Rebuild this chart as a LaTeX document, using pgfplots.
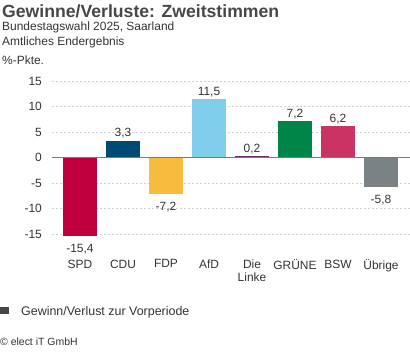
\documentclass[border=0pt]{standalone}
\usepackage{pgfplots}
\pgfplotsset{compat=1.18}
\usepackage{fontspec}
\setmainfont{Liberation Sans}
\definecolor{txt}{HTML}{333333}
\definecolor{ttl}{HTML}{474747}
\definecolor{cSPD}{HTML}{C0003C}
\definecolor{cCDU}{HTML}{004B76}
\definecolor{cFDP}{HTML}{F7BB3D}
\definecolor{cAfD}{HTML}{80CDEC}
\definecolor{cLinke}{HTML}{6B2B6E}
\definecolor{cGRUENE}{HTML}{008549}
\definecolor{cBSW}{HTML}{CB3364}
\definecolor{cUeb}{HTML}{7B8285}
\definecolor{gridc}{HTML}{CFCFCF}
\definecolor{zeroc}{HTML}{7A7A7A}
\begin{document}
\begin{tikzpicture}[x=1bp,y=1bp]
\useasboundingbox (0,0) rectangle (410,-352);
% titles
\node[anchor=base west, inner sep=0pt, text=ttl, font=\fontsize{17.7}{20}\selectfont\bfseries] at (2,-17) {Gewinne/Verluste: Zweitstimmen};
\node[anchor=base west, inner sep=0pt, text=txt, font=\fontsize{12}{14}\selectfont] at (2,-30) {Bundestagswahl 2025, Saarland};
\node[anchor=base west, inner sep=0pt, text=txt, font=\fontsize{12}{14}\selectfont] at (2,-45) {Amtliches Endergebnis};
\node[anchor=base west, inner sep=0pt, text=txt, font=\fontsize{12}{14}\selectfont] at (2,-64) {\%-Pkte.};
\begin{axis}[
  at={(52bp,-244.2bp)}, anchor=south west,
  scale only axis, width=358bp, height=168.3bp,
  xmin=-0.651, xmax=7.674, ymin=-17, ymax=16,
  axis line style={draw=none},
  tick style={draw=none},
  ybar, bar width=34bp,
  every axis plot/.append style={bar shift=0pt, draw=none},
  ytick={-15,-10,-5,0,5,10,15},
  yticklabels={-15,-10,-5,0,5,10,15},
  ymajorgrids,
  grid style={gridc, dash pattern=on 2bp off 2bp, line width=0.6bp},
  xtick={0,1,2,3,4,5,6,7},
  xticklabels={SPD,CDU,FDP,AfD,{Die\\Linke},GRÜNE,BSW,Übrige},
  xticklabel style={font=\fontsize{12}{13.5}\selectfont, text=txt, align=center, inner sep=0pt, yshift=-11bp},
  yticklabel style={font=\fontsize{12}{14}\selectfont, text=txt, anchor=east, inner sep=0pt, xshift=-10bp},
  nodes near coords={\pgfmathprintnumber[fixed,fixed zerofill,precision=1,use comma,assume math mode=true]{\pgfplotspointmeta}},
  every node near coord/.append style={font=\fontsize{12}{14}\selectfont, text=txt, inner sep=3bp, yshift=-1bp},
  clip=false,
]
\addplot[fill=cSPD, every node near coord/.append style={yshift=-4bp}] coordinates {(0,-15.4)};
\addplot[fill=cCDU] coordinates {(1,3.3)};
\addplot[fill=cFDP, every node near coord/.append style={yshift=-4bp}] coordinates {(2,-7.2)};
\addplot[fill=cAfD] coordinates {(3,11.5)};
\addplot[fill=cLinke] coordinates {(4,0.2)};
\addplot[fill=cGRUENE] coordinates {(5,7.2)};
\addplot[fill=cBSW] coordinates {(6,6.2)};
\addplot[fill=cUeb, every node near coord/.append style={yshift=-4bp}] coordinates {(7,-5.8)};
\draw[zeroc, line width=1bp] (axis cs:-0.651,0) -- (axis cs:7.674,0);
\end{axis}
% legend
\fill[ttl] (0,-306.7) rectangle (9,-314);
\node[anchor=base west, inner sep=0pt, text=txt, font=\fontsize{12.5}{14}\selectfont] at (21,-315.5) {Gewinn/Verlust zur Vorperiode};
\node[anchor=base west, inner sep=0pt, text=txt, font=\fontsize{10.5}{12}\selectfont] at (0,-345.5) {© elect iT GmbH};
\end{tikzpicture}
\end{document}
